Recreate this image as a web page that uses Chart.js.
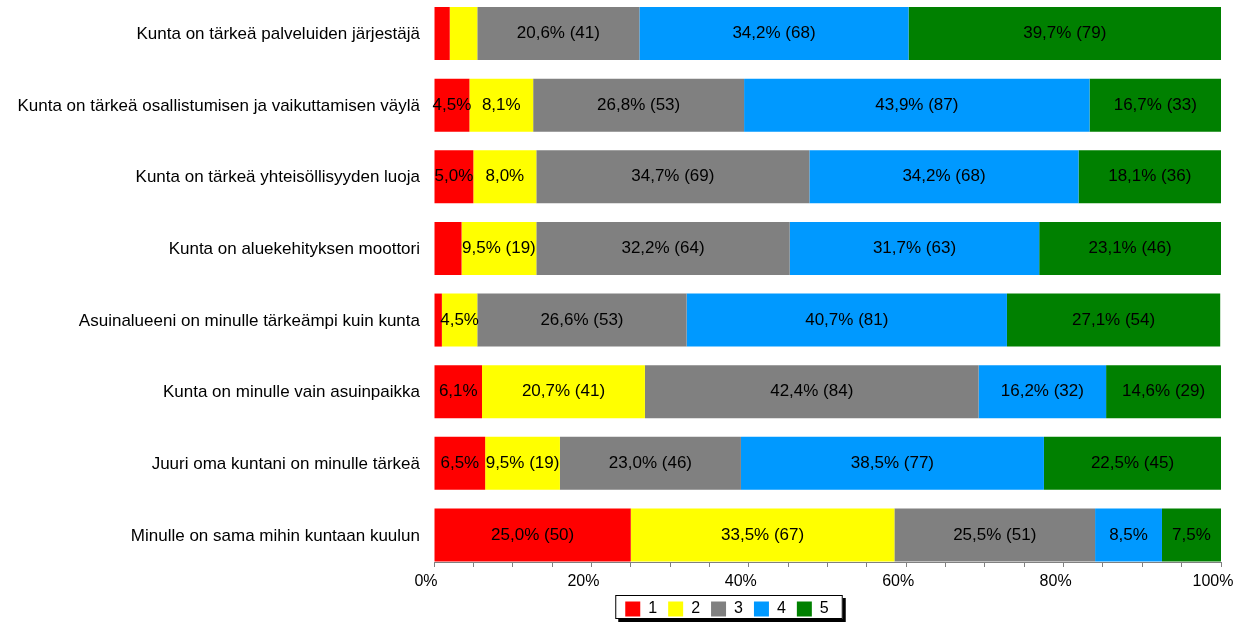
<!DOCTYPE html>
<html>
<head>
<meta charset="utf-8">
<script src="https://cdn.jsdelivr.net/npm/chart.js@4.4.1/dist/chart.umd.min.js"></script>
<style>
  html, body { margin: 0; padding: 0; background: #fff; overflow: hidden; }
</style>
</head>
<body>
<canvas id="chart" width="1236" height="627"></canvas>
<script>
const categories = [
    'Kunta on tärkeä palveluiden järjestäjä',
    'Kunta on tärkeä osallistumisen ja vaikuttamisen väylä',
    'Kunta on tärkeä yhteisöllisyyden luoja',
    'Kunta on aluekehityksen moottori',
    'Asuinalueeni on minulle tärkeämpi kuin kunta',
    'Kunta on minulle vain asuinpaikka',
    'Juuri oma kuntani on minulle tärkeä',
    'Minulle on sama mihin kuntaan kuulun'
];
const seriesNames = ['1', '2', '3', '4', '5'];
const colors = ['#ff0000', '#ffff00', '#808080', '#0099ff', '#008000'];

// percentages per answer (1..5), one value per statement
const pct1 = [2.0, 4.5, 5.0, 3.5, 1.0, 6.1, 6.5, 25.0];
const pct2 = [3.5, 8.1, 8.0, 9.5, 4.5, 20.7, 9.5, 33.5];
const pct3 = [20.6, 26.8, 34.7, 32.2, 26.6, 42.4, 23.0, 25.5];
const pct4 = [34.2, 43.9, 34.2, 31.7, 40.7, 16.2, 38.5, 8.5];
const pct5 = [39.7, 16.7, 18.1, 23.1, 27.1, 14.6, 22.5, 7.5];

// answer counts
const cnt1 = [4, 9, 10, 7, 2, 12, 13, 50];
const cnt2 = [7, 16, 16, 19, 9, 41, 19, 67];
const cnt3 = [41, 53, 69, 64, 53, 84, 46, 51];
const cnt4 = [68, 87, 68, 63, 81, 32, 77, 17];
const cnt5 = [79, 33, 36, 46, 54, 29, 45, 15];

const xTicks = [0, 20, 40, 60, 80, 100];

const pctSeries = [pct1, pct2, pct3, pct4, pct5];
const cntSeries = [cnt1, cnt2, cnt3, cnt4, cnt5];

const FONT = '"Liberation Sans", Arial, sans-serif';
Chart.defaults.font.family = FONT;
Chart.defaults.color = '#000';

// value labels in the middle of each segment
const barLabels = {
    id: 'barLabels',
    afterDatasetsDraw(chart) {
        const ctx = chart.ctx;
        ctx.save();
        ctx.font = '17px ' + FONT;
        ctx.fillStyle = '#000';
        ctx.textAlign = 'center';
        ctx.textBaseline = 'middle';
        chart.data.datasets.forEach((ds, di) => {
            chart.getDatasetMeta(di).data.forEach((bar, i) => {
                const v = ds.data[i].x;
                if (v < 4) return;
                let txt = v.toFixed(1).replace('.', ',') + '%';
                if (v >= 9) txt += ' (' + ds.counts[i] + ')';
                const p = bar.getCenterPoint();
                ctx.fillText(txt, p.x, p.y);
            });
        });
        ctx.restore();
    }
};

// legend sits left of the plot centre, in a frame with a drop shadow
const legendFrame = {
    id: 'legendFrame',
    afterLayout(chart) {
        const lg = chart.legend;
        lg.left = chart.chartArea.left - 201;
        lg.width = lg.right - lg.left;
    },
    beforeDraw(chart) {
        const hb = chart.legend && chart.legend.legendHitBoxes;
        if (!hb || !hb.length) return;
        const last = hb[hb.length - 1];
        const l = hb[0].left - 10, t = hb[0].top - 6;
        const r = last.left + last.width + 14, b = hb[0].top + hb[0].height + 2;
        const ctx = chart.ctx;
        ctx.save();
        ctx.fillStyle = '#000';
        ctx.fillRect(l + 3, t + 3, r - l, b - t);
        ctx.fillStyle = '#fff';
        ctx.fillRect(l, t, r - l, b - t);
        ctx.strokeStyle = '#000';
        ctx.lineWidth = 1;
        ctx.strokeRect(l + 0.5, t + 0.5, r - l - 1, b - t - 1);
        ctx.restore();
    }
};

new Chart(document.getElementById('chart'), {
    type: 'bar',
    data: {
        datasets: seriesNames.map((name, s) => ({
            label: name,
            data: pctSeries[s].map((v, i) => ({ x: v, y: i })),
            counts: cntSeries[s],
            backgroundColor: colors[s],
            borderWidth: 0,
            categoryPercentage: 1,
            barPercentage: 0.74
        }))
    },
    options: {
        indexAxis: 'y',
        responsive: false,
        animation: false,
        events: [],
        layout: { padding: { left: 0, right: 15, top: 0, bottom: 0 } },
        scales: {
            y: {
                type: 'linear', stacked: true, reverse: true, bounds: 'data', offset: false,
                min: -0.4676, max: 7.377,
                grid: { display: false, drawTicks: false, offset: false },
                border: { display: false },
                afterBuildTicks: (s) => { s.ticks = categories.map((c, i) => ({ value: i })); },
                afterFit: (s) => { s.width = 434; s.paddingTop = 0; s.paddingBottom = 0; },
                ticks: {
                    autoSkip: false, padding: 14, color: '#000', labelOffset: 1,
                    font: { size: 17 },
                    callback: (v) => categories[v]
                }
            },
            x: {
                type: 'linear', stacked: true, min: 0, max: 100,
                grid: { display: true, drawOnChartArea: false, drawTicks: true, tickLength: 5, color: '#808080' },
                border: { display: true, color: '#808080' },
                afterFit: (s) => { s.paddingLeft = 0; s.paddingRight = 0; s.height = 28; },
                ticks: {
                    stepSize: 5, autoSkip: false, maxRotation: 0, padding: 6, color: '#000', labelOffset: -8,
                    font: { size: 16, lineHeight: '17px' },
                    callback: (v) => xTicks.includes(v) ? v + '%' : ''
                }
            }
        },
        plugins: {
            legend: {
                position: 'bottom',
                labels: { boxWidth: 15, boxHeight: 15, padding: 11, color: '#000', font: { size: 16 } }
            },
            tooltip: { enabled: false }
        }
    },
    plugins: [barLabels, legendFrame]
});
</script>
</body>
</html>
